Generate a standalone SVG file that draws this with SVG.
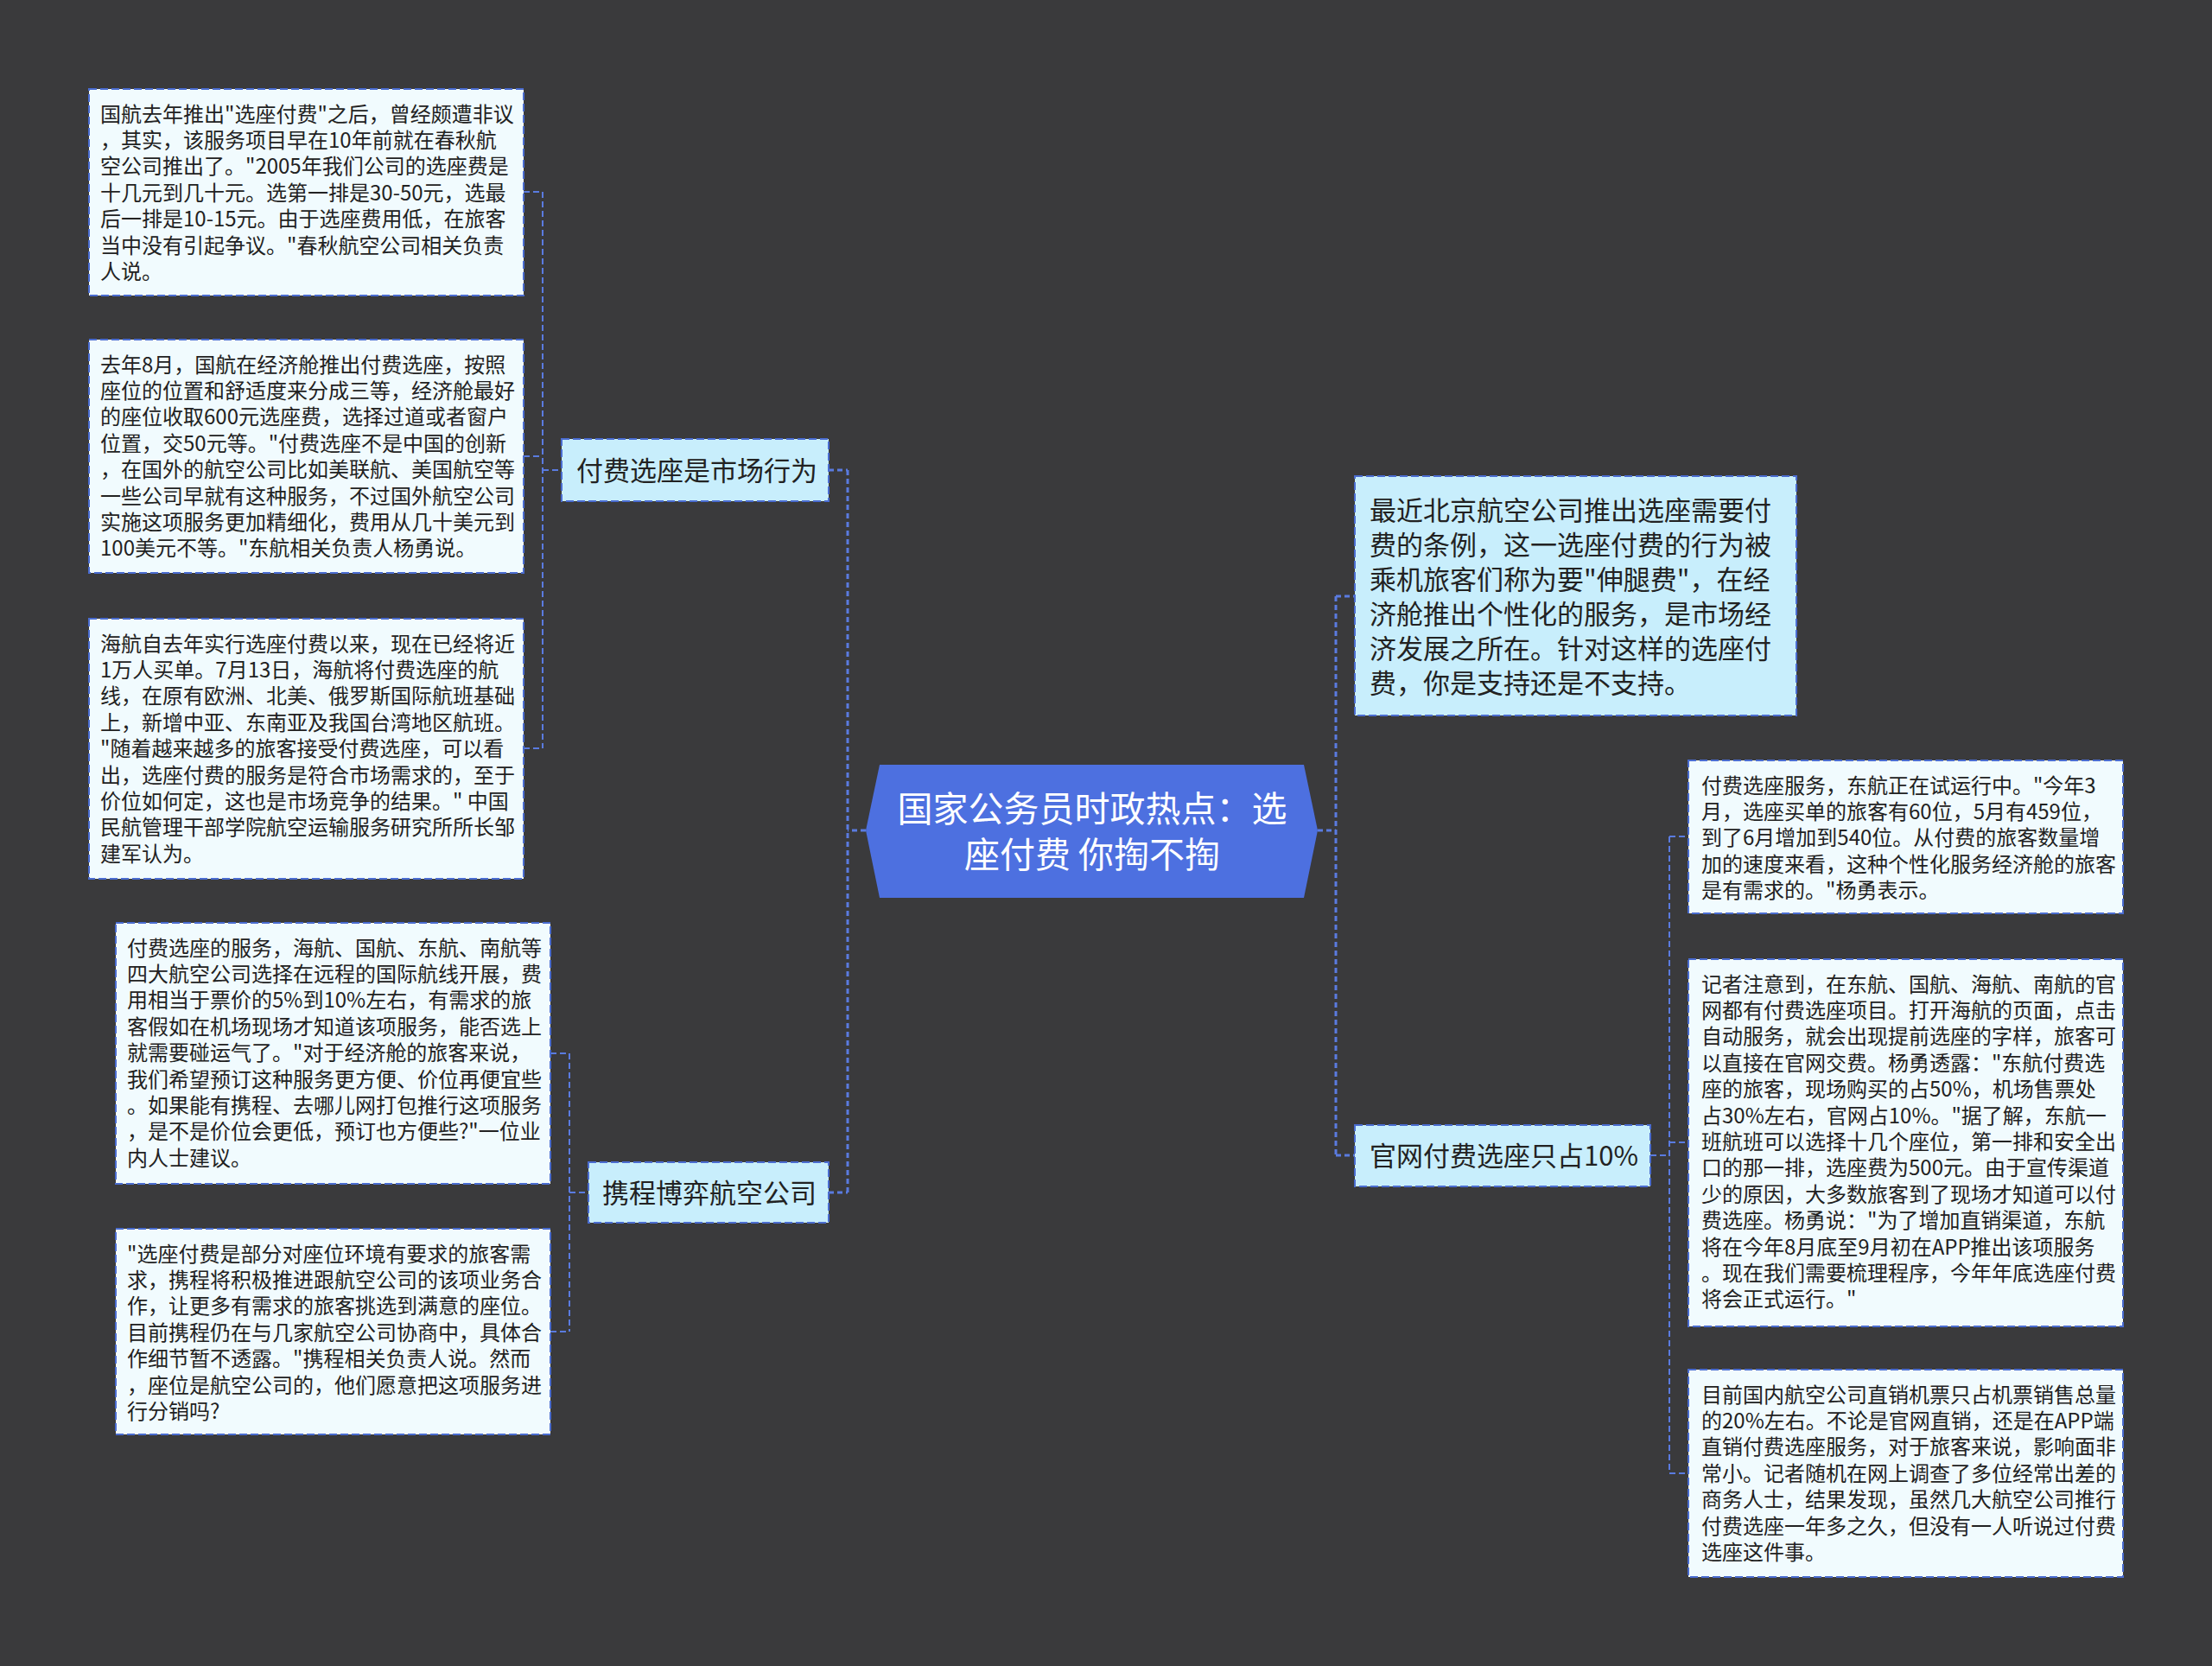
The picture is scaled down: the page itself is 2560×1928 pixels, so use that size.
<svg xmlns="http://www.w3.org/2000/svg" width="2560" height="1928" viewBox="0 0 2560 1928">
<style>
.bg{fill:#3a3a3c}
.leaf{fill:#f1fbfe;stroke:#4a6cd0;stroke-width:2;stroke-dasharray:9 4}
.branch{fill:#c8eefc;stroke:#4a6cd0;stroke-width:2;stroke-dasharray:9 4}
.root{fill:#4d70e0}
.lt{font-family:"Noto Sans CJK SC","Noto Sans",sans-serif;font-size:24px;fill:#222}
.bt{font-family:"Noto Sans CJK SC","Noto Sans",sans-serif;font-size:31px;fill:#222}
.rt{font-family:"Noto Sans CJK SC","Noto Sans",sans-serif;font-size:41px;fill:#fff;text-anchor:middle}
.c1{fill:none;stroke:#5a7be0;stroke-width:3;stroke-dasharray:6 4}
.c2{fill:none;stroke:#5a7be0;stroke-width:2;stroke-dasharray:7 4}
</style>
<rect class="bg" x="0" y="0" width="2560" height="1928"/>
<g id="connectors">
<path class="c1" d="M1002,961 H981 M981,544 V1380 M959,544 H981 M959,1380 H981"/>
<path class="c1" d="M1525,961 H1546 M1546,690 V1337 M1546,690 H1568 M1546,1337 H1568"/>
<path class="c2" d="M628,222 V866 M606,222 H628 M606,528 H628 M606,866 H628 M628,544 H650"/>
<path class="c2" d="M659,1219 V1541 M637,1219 H659 M637,1541 H659 M659,1380 H681"/>
<path class="c2" d="M1932,968 V1705 M1910,1337 H1932 M1932,968 H1954 M1932,1322 H1954 M1932,1705 H1954"/>
</g>
<g id="root">
<polygon class="root" points="1002,961 1018,885 1509,885 1525,961 1509,1039 1018,1039"/>
<text class="rt"><tspan x="1264" y="951">国家公务员时政热点：选</tspan><tspan x="1264" y="1004">座付费 你掏不掏</tspan></text>
</g>
<g id="n-market">
<rect class="branch" x="650" y="508" width="309" height="72"/>
<text class="bt" x="667" y="556">付费选座是市场行为</text>
</g>
<g id="n-ctrip">
<rect class="branch" x="681" y="1345" width="278" height="70"/>
<text class="bt" x="697" y="1392">携程博弈航空公司</text>
</g>
<g id="n-intro">
<rect class="branch" x="1568" y="551" width="511" height="277"/>
<text class="bt" x="1585"><tspan x="1585" y="602">最近北京航空公司推出选座需要付</tspan><tspan x="1585" y="642">费的条例，这一选座付费的行为被</tspan><tspan x="1585" y="682">乘机旅客们称为要"伸腿费"，在经</tspan><tspan x="1585" y="722">济舱推出个性化的服务，是市场经</tspan><tspan x="1585" y="762">济发展之所在。针对这样的选座付</tspan><tspan x="1585" y="802">费，你是支持还是不支持。</tspan></text>
</g>
<g id="n-web">
<rect class="branch" x="1568" y="1302" width="342" height="71"/>
<text class="bt" x="1585" y="1349">官网付费选座只占10%</text>
</g>
<g id="l1">
<rect class="leaf" x="103" y="103" width="503" height="239"/>
<text class="lt"><tspan x="116" y="140.5">国航去年推出"选座付费"之后，曾经颇遭非议</tspan><tspan x="116" y="170.9">，其实，该服务项目早在10年前就在春秋航</tspan><tspan x="116" y="201.3">空公司推出了。"2005年我们公司的选座费是</tspan><tspan x="116" y="231.7">十几元到几十元。选第一排是30-50元，选最</tspan><tspan x="116" y="262.1">后一排是10-15元。由于选座费用低，在旅客</tspan><tspan x="116" y="292.5">当中没有引起争议。"春秋航空公司相关负责</tspan><tspan x="116" y="322.9">人说。</tspan></text>
</g>
<g id="l2">
<rect class="leaf" x="103" y="393" width="503" height="270"/>
<text class="lt"><tspan x="116" y="430.5">去年8月，国航在经济舱推出付费选座，按照</tspan><tspan x="116" y="460.9">座位的位置和舒适度来分成三等，经济舱最好</tspan><tspan x="116" y="491.3">的座位收取600元选座费，选择过道或者窗户</tspan><tspan x="116" y="521.7">位置，交50元等。"付费选座不是中国的创新</tspan><tspan x="116" y="552.1">，在国外的航空公司比如美联航、美国航空等</tspan><tspan x="116" y="582.5">一些公司早就有这种服务，不过国外航空公司</tspan><tspan x="116" y="612.9">实施这项服务更加精细化，费用从几十美元到</tspan><tspan x="116" y="643.3">100美元不等。"东航相关负责人杨勇说。</tspan></text>
</g>
<g id="l3">
<rect class="leaf" x="103" y="716" width="503" height="301"/>
<text class="lt"><tspan x="116" y="753.5">海航自去年实行选座付费以来，现在已经将近</tspan><tspan x="116" y="783.9">1万人买单。7月13日，海航将付费选座的航</tspan><tspan x="116" y="814.3">线，在原有欧洲、北美、俄罗斯国际航班基础</tspan><tspan x="116" y="844.7">上，新增中亚、东南亚及我国台湾地区航班。</tspan><tspan x="116" y="875.1">"随着越来越多的旅客接受付费选座，可以看</tspan><tspan x="116" y="905.5">出，选座付费的服务是符合市场需求的，至于</tspan><tspan x="116" y="935.9">价位如何定，这也是市场竞争的结果。" 中国</tspan><tspan x="116" y="966.3">民航管理干部学院航空运输服务研究所所长邹</tspan><tspan x="116" y="996.7">建军认为。</tspan></text>
</g>
<g id="l4">
<rect class="leaf" x="134" y="1068" width="503" height="302"/>
<text class="lt"><tspan x="147" y="1105.5">付费选座的服务，海航、国航、东航、南航等</tspan><tspan x="147" y="1135.9">四大航空公司选择在远程的国际航线开展，费</tspan><tspan x="147" y="1166.3">用相当于票价的5%到10%左右，有需求的旅</tspan><tspan x="147" y="1196.7">客假如在机场现场才知道该项服务，能否选上</tspan><tspan x="147" y="1227.1">就需要碰运气了。"对于经济舱的旅客来说，</tspan><tspan x="147" y="1257.5">我们希望预订这种服务更方便、价位再便宜些</tspan><tspan x="147" y="1287.9">。如果能有携程、去哪儿网打包推行这项服务</tspan><tspan x="147" y="1318.3">，是不是价位会更低，预订也方便些?"一位业</tspan><tspan x="147" y="1348.7">内人士建议。</tspan></text>
</g>
<g id="l5">
<rect class="leaf" x="134" y="1422" width="503" height="238"/>
<text class="lt"><tspan x="147" y="1459.5">"选座付费是部分对座位环境有要求的旅客需</tspan><tspan x="147" y="1489.9">求，携程将积极推进跟航空公司的该项业务合</tspan><tspan x="147" y="1520.3">作，让更多有需求的旅客挑选到满意的座位。</tspan><tspan x="147" y="1550.7">目前携程仍在与几家航空公司协商中，具体合</tspan><tspan x="147" y="1581.1">作细节暂不透露。"携程相关负责人说。然而</tspan><tspan x="147" y="1611.5">，座位是航空公司的，他们愿意把这项服务进</tspan><tspan x="147" y="1641.9">行分销吗?</tspan></text>
</g>
<g id="r3">
<rect class="leaf" x="1954" y="880" width="503" height="177"/>
<text class="lt"><tspan x="1969" y="917.5">付费选座服务，东航正在试运行中。"今年3</tspan><tspan x="1969" y="947.9">月，选座买单的旅客有60位，5月有459位，</tspan><tspan x="1969" y="978.3">到了6月增加到540位。从付费的旅客数量增</tspan><tspan x="1969" y="1008.7">加的速度来看，这种个性化服务经济舱的旅客</tspan><tspan x="1969" y="1039.1">是有需求的。"杨勇表示。</tspan></text>
</g>
<g id="r4">
<rect class="leaf" x="1954" y="1110" width="503" height="425"/>
<text class="lt"><tspan x="1969" y="1147.5">记者注意到，在东航、国航、海航、南航的官</tspan><tspan x="1969" y="1177.9">网都有付费选座项目。打开海航的页面，点击</tspan><tspan x="1969" y="1208.3">自动服务，就会出现提前选座的字样，旅客可</tspan><tspan x="1969" y="1238.7">以直接在官网交费。杨勇透露："东航付费选</tspan><tspan x="1969" y="1269.1">座的旅客，现场购买的占50%，机场售票处</tspan><tspan x="1969" y="1299.5">占30%左右，官网占10%。"据了解，东航一</tspan><tspan x="1969" y="1329.9">班航班可以选择十几个座位，第一排和安全出</tspan><tspan x="1969" y="1360.3">口的那一排，选座费为500元。由于宣传渠道</tspan><tspan x="1969" y="1390.7">少的原因，大多数旅客到了现场才知道可以付</tspan><tspan x="1969" y="1421.1">费选座。杨勇说："为了增加直销渠道，东航</tspan><tspan x="1969" y="1451.5">将在今年8月底至9月初在APP推出该项服务</tspan><tspan x="1969" y="1481.9">。现在我们需要梳理程序，今年年底选座付费</tspan><tspan x="1969" y="1512.3">将会正式运行。"</tspan></text>
</g>
<g id="r5">
<rect class="leaf" x="1954" y="1585" width="503" height="240"/>
<text class="lt"><tspan x="1969" y="1622.5">目前国内航空公司直销机票只占机票销售总量</tspan><tspan x="1969" y="1652.9">的20%左右。不论是官网直销，还是在APP端</tspan><tspan x="1969" y="1683.3">直销付费选座服务，对于旅客来说，影响面非</tspan><tspan x="1969" y="1713.7">常小。记者随机在网上调查了多位经常出差的</tspan><tspan x="1969" y="1744.1">商务人士，结果发现，虽然几大航空公司推行</tspan><tspan x="1969" y="1774.5">付费选座一年多之久，但没有一人听说过付费</tspan><tspan x="1969" y="1804.9">选座这件事。</tspan></text>
</g>
</svg>
